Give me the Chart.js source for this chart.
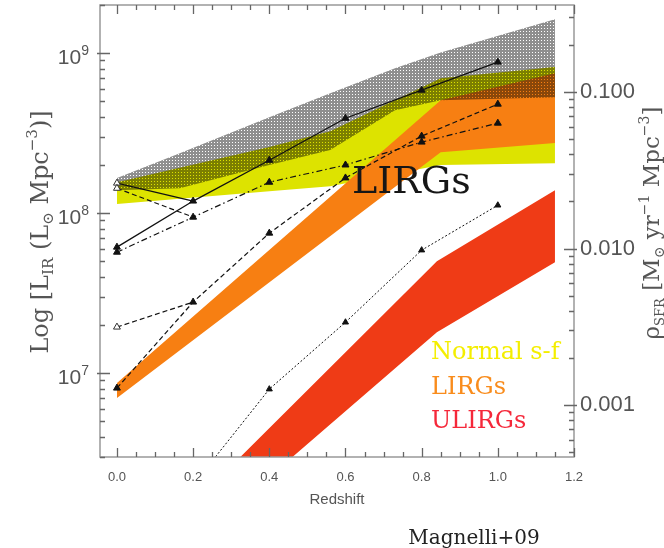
<!DOCTYPE html>
<html>
<head>
<meta charset="utf-8">
<title>IR luminosity density vs redshift</title>
<script src="https://cdn.jsdelivr.net/npm/chart.js@4.4.1/dist/chart.umd.min.js"></script>
<style>
  html, body { margin: 0; padding: 0; background: #fff; }
  #wrap { width: 664px; height: 548px; }
</style>
</head>
<body>
<div id="wrap"><canvas id="ldChart" width="664" height="548"></canvas></div>
<script>
// axis ticks
const redshiftTicks = [0, 0.2, 0.4, 0.6, 0.8, 1.0, 1.2];
const lumTicks = [1e7, 1e8, 1e9];
const sfrTicks = [0.001, 0.01, 0.1];

// measured luminosity densities (L_sun Mpc^-3) per redshift bin
const zBins = [0, 0.2, 0.4, 0.6, 0.8, 1.0];
const ldTotal = [6.13e7, 1.19e8, 2.14e8, 3.92e8, 5.87e8, 8.79e8];
const ldTotalAlt = [5.70e7, 9.44e7, 1.56e8, 2.0e8, 2.78e8, 3.65e8];
const ldLirg = [8.06e6, 2.78e7, 7.5e7, 1.66e8, 3.03e8, 4.80e8];
const zUlirgBins = [0.2, 0.4, 0.6, 0.8, 1.0];
const ldUlirg = [2.0e6, 7.94e6, 2.08e7, 5.87e7, 1.12e8];

// local (z=0) reference values
const localTotal = 1.54e8;
const localTotalAlt = 1.43e8;
const localLirg = 1.94e7;

// model envelopes
const zTotalBand = [0, 0.165, 0.4, 0.56, 0.73, 0.85, 1.15];
const totalHigh = [1.66e8, 2.37e8, 3.98e8, 5.62e8, 8.06e8, 1.01e9, 1.63e9];
const totalLow = [1.39e8, 1.43e8, 2.0e8, 2.48e8, 4.40e8, 5.08e8, 5.31e8];

const zNormalBand = [0, 0.4, 0.56, 0.85, 1.15];
const normalHigh = [1.56e8, 2.59e8, 3.25e8, 6.98e8, 8.18e8];
const normalLow = [1.14e8, 1.37e8, 1.47e8, 2.0e8, 2.05e8];

const zLirgBand = [0, 0.85, 1.15];
const lirgHigh = [8.66e6, 5.08e8, 7.5e8];
const lirgLow = [6.98e6, 2.40e8, 2.74e8];

const zUlirgBand = [0.2, 0.84, 1.15];
const ulirgHigh = [1.52e6, 5.0e7, 1.39e8];
const ulirgLow = [8.7e5, 1.80e7, 4.94e7];

const fontSans = '"Liberation Sans", Arial, sans-serif';
const fontSerif = '"DejaVu Serif", serif';

const pts = (xs, ys) => xs.map((x, i) => ({ x: x, y: ys[i] }));

function dotPattern() {
    const c = document.createElement('canvas');
    c.width = 3; c.height = 3;
    const g = c.getContext('2d');
    g.fillStyle = 'rgba(0,0,0,0.44)';
    g.fillRect(0, 0, 3, 3);
    g.clearRect(1, 1, 1, 1);
    return g.createPattern(c, 'repeat');
}

function band(label, xs, high, low, color) {
    const edge = { borderWidth: 0, borderColor: 'rgba(0,0,0,0)', pointRadius: 0, tension: 0 };
    return [
        Object.assign({ label: label, data: pts(xs, high), fill: '+1', backgroundColor: color }, edge),
        Object.assign({ label: label + ' low', data: pts(xs, low), fill: false }, edge)
    ];
}

function series(label, xs, ys, dash, width, radius) {
    return {
        label: label,
        data: pts(xs, ys),
        borderColor: '#111',
        borderWidth: width,
        borderDash: dash,
        pointStyle: 'triangle',
        pointRadius: radius,
        pointBackgroundColor: '#111',
        pointBorderColor: '#111',
        pointBorderWidth: 1,
        fill: false,
        tension: 0,
        clip: 0
    };
}

function localBranch(label, y0, y1, dash) {
    const ds = series(label, [0, 0.2], [y0, y1], dash, 1.2, [4, 0]);
    ds.pointBackgroundColor = '#fff';
    ds.pointBorderColor = '#333';
    return ds;
}

// text with sub/superscripts, centered on (x, y), rotated by angle
function richText(ctx, parts, x, y, angle, size, color) {
    ctx.save();
    ctx.translate(x, y);
    ctx.rotate(angle);
    let w = 0;
    parts.forEach(p => {
        ctx.font = `${Math.round(size * (p.s || 1))}px ${fontSerif}`;
        p.w = ctx.measureText(p.t).width;
        w += p.w;
    });
    let cx = -w / 2;
    ctx.fillStyle = color;
    ctx.textAlign = 'left';
    ctx.textBaseline = 'alphabetic';
    parts.forEach(p => {
        ctx.font = `${Math.round(size * (p.s || 1))}px ${fontSerif}`;
        ctx.fillText(p.t, cx, (p.dy || 0) * size);
        cx += p.w;
    });
    ctx.restore();
}

// inward tick marks for every mantissa 1..9 of each decade
function logMarks(ctx, scale, edge, dir) {
    const e0 = Math.floor(Math.log10(scale.min));
    const e1 = Math.ceil(Math.log10(scale.max));
    for (let e = e0; e <= e1; e++) {
        for (let m = 1; m < 10; m++) {
            const v = m * Math.pow(10, e);
            if (v < scale.min || v > scale.max) continue;
            const py = Math.round(scale.getPixelForValue(v)) + 0.5;
            ctx.moveTo(edge - dir * (m === 1 ? 3 : 0), py);
            ctx.lineTo(edge + dir * (m === 1 ? 10 : 5), py);
        }
    }
}

const decorations = {
    id: 'decorations',
    afterDatasetsDraw(chart) {
        const ctx = chart.ctx;
        const { left, right, top, bottom } = chart.chartArea;
        const xs = chart.scales.x, ys = chart.scales.y, rs = chart.scales.y2;
        ctx.save();
        ctx.setLineDash([]);

        // frame and ticks
        ctx.strokeStyle = '#999';
        ctx.lineWidth = 1.5;
        ctx.strokeRect(left, top, right - left, bottom - top);
        ctx.strokeStyle = '#666';
        ctx.lineWidth = 1.3;
        ctx.beginPath();
        for (let i = 0; i <= 24; i++) {
            const px = Math.round(xs.getPixelForValue(i * 0.05)) + 0.5;
            const len = i % 4 === 0 ? 9 : 5;
            ctx.moveTo(px, bottom); ctx.lineTo(px, bottom - len);
            ctx.moveTo(px, top); ctx.lineTo(px, top + len);
        }
        logMarks(ctx, ys, left, 1);
        logMarks(ctx, rs, right, -1);
        ctx.stroke();

        // left tick labels as powers of ten
        ctx.fillStyle = '#555';
        ctx.textAlign = 'left';
        ctx.textBaseline = 'alphabetic';
        lumTicks.forEach(v => {
            const py = ys.getPixelForValue(v);
            const exp = String(Math.round(Math.log10(v)));
            ctx.font = `14px ${fontSans}`;
            const we = ctx.measureText(exp).width;
            ctx.font = `21px ${fontSans}`;
            const wb = ctx.measureText('10').width;
            const xEnd = 89;
            ctx.fillText('10', xEnd - we - wb, py + 11);
            ctx.font = `14px ${fontSans}`;
            ctx.fillText(exp, xEnd - we, py + 2);
        });

        // axis titles
        richText(ctx, [
            { t: 'Log [L' }, { t: 'IR', s: 0.62, dy: 0.22 }, { t: ' (L' },
            { t: '\u2299', s: 0.62, dy: 0.22 }, { t: ' Mpc' }, { t: '\u22123', s: 0.62, dy: -0.45 }, { t: ')]' }
        ], 48, 232, -Math.PI / 2, 24, '#555');
        richText(ctx, [
            { t: '\u03c1' }, { t: 'SFR', s: 0.55, dy: 0.22 }, { t: ' [M' },
            { t: '\u2299', s: 0.62, dy: 0.22 }, { t: ' yr' }, { t: '\u22121', s: 0.62, dy: -0.45 },
            { t: ' Mpc' }, { t: '\u22123', s: 0.62, dy: -0.45 }, { t: ']' }
        ], 659, 223, -Math.PI / 2, 23, '#555');

        ctx.textAlign = 'center';
        ctx.fillStyle = '#555';
        ctx.font = `15px ${fontSans}`;
        ctx.fillText('Redshift', (left + right) / 2, 504);
        ctx.fillStyle = '#222';
        ctx.font = `20px ${fontSerif}`;
        ctx.fillText('Magnelli+09', 474, 544);

        // in-plot labels
        ctx.textAlign = 'left';
        ctx.fillStyle = '#161616';
        ctx.font = `38px ${fontSerif}`;
        ctx.fillText('LIRGs', 352, 193);
        ctx.font = `24px ${fontSerif}`;
        ctx.fillStyle = '#f4ee00';
        ctx.fillText('Normal s-f', 431, 359);
        ctx.fillStyle = '#f98c1c';
        ctx.fillText('LIRGs', 431, 394);
        ctx.fillStyle = '#f5283a';
        ctx.fillText('ULIRGs', 431, 428);
        ctx.restore();
    }
};

const datasets = [
    series('ULIRGs', zUlirgBins, ldUlirg, [2, 2], 1, [0, 3.5, 3.5, 3.5, 3.5]),
    series('LIRGs', zBins, ldLirg, [5, 3], 1.2, 4),
    localBranch('LIRGs local', localLirg, ldLirg[1], [5, 3]),
    series('Total (alt)', zBins, ldTotalAlt, [6, 3, 1.5, 3], 1.2, 4),
    localBranch('Total (alt) local', localTotalAlt, ldTotalAlt[1], [5, 3]),
    series('Total', zBins, ldTotal, [], 1.3, 4),
    localBranch('Total local', localTotal, ldTotal[1], []),
    ...band('Total model', zTotalBand, totalHigh, totalLow, dotPattern()),
    ...band('ULIRGs model', zUlirgBand, ulirgHigh, ulirgLow, '#ef3b16'),
    ...band('LIRGs model', zLirgBand, lirgHigh, lirgLow, '#f77f12'),
    ...band('Normal model', zNormalBand, normalHigh, normalLow, '#dde300')
];

// keep the plot box fixed: no extra room for edge tick labels
const noEdgePadding = s => { s.paddingTop = 0; s.paddingBottom = 0; s.paddingLeft = 0; s.paddingRight = 0; };

new Chart(document.getElementById('ldChart'), {
    type: 'line',
    data: { datasets: datasets },
    options: {
        responsive: false,
        animation: false,
        layout: { padding: { top: 5, left: 0, right: 0, bottom: 0 } },
        plugins: {
            legend: { display: false },
            tooltip: { enabled: false }
        },
        scales: {
            x: {
                type: 'linear',
                position: 'bottom',
                min: -0.0445,
                max: 1.2,
                grid: { display: false, drawTicks: false },
                border: { display: false },
                ticks: {
                    color: '#555',
                    font: { family: fontSans, size: 13 },
                    padding: 13,
                    maxRotation: 0,
                    autoSkip: false,
                    callback: v => Number(v).toFixed(1)
                },
                afterBuildTicks: s => { s.ticks = redshiftTicks.map(v => ({ value: v })); },
                afterFit: s => { s.height = 91; noEdgePadding(s); }
            },
            y: {
                type: 'logarithmic',
                position: 'left',
                min: 2.99e6,
                max: 2.0e9,
                grid: { display: false, drawTicks: false },
                border: { display: false },
                ticks: { display: false },
                afterFit: s => { s.width = 100; noEdgePadding(s); }
            },
            y2: {
                type: 'logarithmic',
                position: 'right',
                min: 4.65e-4,
                max: 0.36,
                grid: { display: false, drawTicks: false },
                border: { display: false },
                ticks: {
                    color: '#555',
                    font: { family: fontSans, size: 22 },
                    padding: 6,
                    autoSkip: false,
                    callback: v => Number(v).toFixed(3)
                },
                afterBuildTicks: s => { s.ticks = sfrTicks.map(v => ({ value: v })); },
                afterFit: s => { s.width = 90; noEdgePadding(s); }
            }
        }
    },
    plugins: [decorations]
});
</script>
</body>
</html>
